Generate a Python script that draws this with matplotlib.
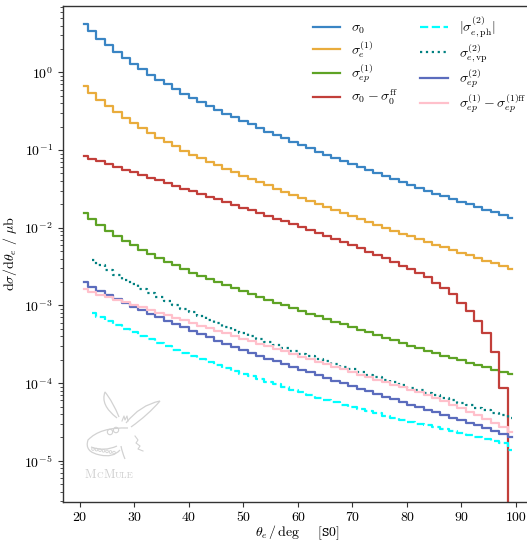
import numpy as np
import matplotlib
matplotlib.use("Agg")
import matplotlib.pyplot as plt
from matplotlib.path import Path
from matplotlib.patches import PathPatch, Circle
from matplotlib.offsetbox import TextArea, HPacker, AnnotationBbox

# Fonte no estilo LaTeX
plt.rcParams['font.family'] = ['cmr10', 'DejaVu Serif']
plt.rcParams['mathtext.fontset'] = 'cm'
plt.rcParams['axes.unicode_minus'] = False
plt.rcParams['font.size'] = 10

# 52 bins de theta_e entre 20 e 100 graus
bin_edges = np.linspace(20, 100, 53)
theta = 0.5 * (bin_edges[1:] + bin_edges[:-1])

# Dados (dsigma/dtheta em mub)
sigma0 = [4.19, 3.35, 2.71, 2.22, 1.83, 1.53, 1.285, 1.091, 0.933, 0.804,
          0.697, 0.608, 0.533, 0.470, 0.416, 0.370, 0.330, 0.294, 0.264, 0.237,
          0.213, 0.192, 0.173, 0.156, 0.141, 0.128, 0.116, 0.105, 0.0955, 0.0867,
          0.0789, 0.0718, 0.0655, 0.0597, 0.0546, 0.0499, 0.0457, 0.0419, 0.0385, 0.0353,
          0.0325, 0.0299, 0.0275, 0.0254, 0.0234, 0.0216, 0.0200, 0.0185, 0.0171, 0.0158,
          0.0146, 0.0135]

sigma_e1 = [0.667, 0.541, 0.444, 0.367, 0.308, 0.259, 0.221, 0.190, 0.164, 0.143,
            0.125, 0.111, 0.0982, 0.0875, 0.0783, 0.0705, 0.0634, 0.0571, 0.0516, 0.0468,
            0.0425, 0.0385, 0.0350, 0.0318, 0.0290, 0.0264, 0.0241, 0.0220, 0.0201, 0.0183,
            0.0168, 0.0153, 0.0140, 0.0128, 0.0117, 0.0108, 0.00991, 0.00910, 0.00838, 0.00771,
            0.00711, 0.00655, 0.00604, 0.00557, 0.00515, 0.00475, 0.00439, 0.00406, 0.00376, 0.00348,
            0.00322, 0.00298]

sigma_ep1 = [0.01535, 0.01282, 0.01081, 0.00920, 0.00791, 0.00684, 0.00596, 0.00522, 0.00461, 0.00409,
             0.00365, 0.00327, 0.00294, 0.00265, 0.00240, 0.00218, 0.00199, 0.00181, 0.00166, 0.00152,
             0.00139, 0.00128, 0.00118, 0.00109, 0.00100, 0.000923, 0.000851, 0.000785, 0.000724, 0.000668,
             0.000617, 0.000569, 0.000525, 0.000485, 0.000449, 0.000415, 0.000384, 0.000355, 0.000328, 0.000303,
             0.000281, 0.000261, 0.000243, 0.000226, 0.000211, 0.000197, 0.000184, 0.000171, 0.000160, 0.000149,
             0.000139, 0.000130]

sigma0_ff = [0.0845, 0.0776, 0.0714, 0.0658, 0.0607, 0.0560, 0.0516, 0.0476, 0.0440, 0.0406,
             0.0374, 0.0345, 0.0318, 0.0294, 0.0271, 0.0250, 0.0231, 0.0213, 0.0196, 0.0181,
             0.0167, 0.0154, 0.0142, 0.0131, 0.0121, 0.0111, 0.0102, 0.00940, 0.00863, 0.00791,
             0.00723, 0.00659, 0.00600, 0.00545, 0.00493, 0.00446, 0.00402, 0.00361, 0.00324, 0.00290,
             0.00263, 0.00230, 0.00197, 0.00168, 0.00140, 0.00108, 0.000847, 0.000635, 0.000446, 0.000254,
             0.0000857, 0.0]

# estas duas comecam no segundo bin
sigma_e2_ph = [7.94e-4, 7.05e-4, 6.28e-4, 5.61e-4, 5.02e-4, 4.51e-4, 4.06e-4, 3.65e-4, 3.29e-4,
               2.97e-4, 2.69e-4, 2.44e-4, 2.22e-4, 2.03e-4, 1.85e-4, 1.70e-4, 1.56e-4, 1.44e-4, 1.32e-4,
               1.22e-4, 1.13e-4, 1.04e-4, 9.62e-5, 8.89e-5, 8.22e-5, 7.60e-5, 7.05e-5, 6.53e-5, 6.07e-5,
               5.65e-5, 5.27e-5, 4.93e-5, 4.62e-5, 4.34e-5, 4.07e-5, 3.83e-5, 3.61e-5, 3.40e-5, 3.20e-5,
               3.02e-5, 2.85e-5, 2.69e-5, 2.54e-5, 2.40e-5, 2.26e-5, 2.14e-5, 2.02e-5, 1.91e-5, 1.80e-5,
               1.68e-5, 1.38e-5]

sigma_e2_vp = [3.84e-3, 3.30e-3, 2.84e-3, 2.47e-3, 2.15e-3, 1.88e-3, 1.65e-3, 1.46e-3, 1.29e-3,
               1.15e-3, 1.02e-3, 9.08e-4, 8.13e-4, 7.29e-4, 6.56e-4, 5.92e-4, 5.35e-4, 4.84e-4, 4.40e-4,
               4.00e-4, 3.65e-4, 3.34e-4, 3.07e-4, 2.82e-4, 2.61e-4, 2.40e-4, 2.22e-4, 2.05e-4, 1.90e-4,
               1.75e-4, 1.62e-4, 1.50e-4, 1.39e-4, 1.28e-4, 1.19e-4, 1.10e-4, 1.02e-4, 9.42e-5, 8.73e-5,
               8.09e-5, 7.50e-5, 6.95e-5, 6.46e-5, 6.00e-5, 5.57e-5, 5.18e-5, 4.81e-5, 4.47e-5, 4.15e-5,
               3.85e-5, 3.58e-5]

sigma_ep2 = [1.98e-3, 1.73e-3, 1.52e-3, 1.35e-3, 1.20e-3, 1.07e-3, 9.64e-4, 8.67e-4, 7.82e-4, 7.05e-4,
             6.37e-4, 5.75e-4, 5.20e-4, 4.71e-4, 4.27e-4, 3.87e-4, 3.52e-4, 3.20e-4, 2.92e-4, 2.67e-4,
             2.44e-4, 2.24e-4, 2.07e-4, 1.90e-4, 1.75e-4, 1.62e-4, 1.49e-4, 1.38e-4, 1.27e-4, 1.17e-4,
             1.08e-4, 9.98e-5, 9.20e-5, 8.49e-5, 7.83e-5, 7.24e-5, 6.70e-5, 6.19e-5, 5.73e-5, 5.30e-5,
             4.90e-5, 4.53e-5, 4.19e-5, 3.87e-5, 3.58e-5, 3.32e-5, 3.08e-5, 2.85e-5, 2.64e-5, 2.45e-5,
             2.21e-5, 2.00e-5]

sigma_ep1_ff = [1.61e-3, 1.49e-3, 1.38e-3, 1.28e-3, 1.19e-3, 1.10e-3, 1.02e-3, 9.46e-4, 8.75e-4, 8.09e-4,
                7.48e-4, 6.92e-4, 6.40e-4, 5.92e-4, 5.47e-4, 5.07e-4, 4.70e-4, 4.36e-4, 4.04e-4, 3.74e-4,
                3.47e-4, 3.21e-4, 2.98e-4, 2.76e-4, 2.56e-4, 2.37e-4, 2.20e-4, 2.04e-4, 1.89e-4, 1.75e-4,
                1.62e-4, 1.50e-4, 1.39e-4, 1.29e-4, 1.20e-4, 1.11e-4, 1.03e-4, 9.53e-5, 8.83e-5, 8.18e-5,
                7.59e-5, 6.98e-5, 6.40e-5, 5.83e-5, 5.30e-5, 4.79e-5, 4.31e-5, 3.85e-5, 3.44e-5, 3.05e-5,
                2.69e-5, 2.37e-5]

labels = [r"$\sigma_0$", r"$\sigma^{(1)}_e$", r"$\sigma^{(1)}_{ep}$", r"$\sigma_0-\sigma_0^{\mathrm{ff}}$",
          r"$|\sigma^{(2)}_{e,\mathrm{ph}}|$", r"$\sigma^{(2)}_{e,\mathrm{vp}}$", r"$\sigma^{(2)}_{ep}$",
          r"$\sigma^{(1)}_{ep}-\sigma^{(1)\mathrm{ff}}_{ep}$"]


def px(x, y):
    # converte pixel da imagem para coordenada da figura
    return (x / 527.0, 1.0 - y / 540.0)


def logo(fig):
    # desenho simplificado do logo McMule (marca d'agua)
    cor = '#d2d2d2'
    formas = [
        [(117, 418), (100, 405), (105, 392), (113, 402), (119, 417)],
        [(126, 423), (140, 405), (160, 401), (148, 415), (131, 427)],
        [(128, 428), (100, 427), (88, 440), (84, 452), (100, 455), (113, 458), (120, 450)],
        [(91, 447), (104, 452), (117, 446)],
        [(121, 446), (122, 452), (125, 459)],
    ]
    for pts in formas:
        verts = [px(*p) for p in pts]
        codes = [Path.MOVETO] + [Path.CURVE3] * (len(verts) - 1)
        fig.add_artist(PathPatch(Path(verts, codes), fc='none', ec=cor, lw=0.9,
                                 transform=fig.transFigure))
    # dentes
    for k in range(7):
        x, y = px(93 + 3.5 * k, 449 + 0.6 * k)
        fig.add_artist(Circle((x, y), 0.0025, fc='none', ec=cor, lw=0.6,
                              transform=fig.transFigure))
    # olhos e pelos
    for (x0, y0) in [(110, 432), (116, 430)]:
        x, y = px(x0, y0)
        fig.add_artist(Circle((x, y), 0.005, fc='none', ec=cor, lw=0.8,
                              transform=fig.transFigure))
    zz = [px(135, 436), px(138, 440), px(136, 443), px(140, 446), px(138, 449), px(143, 451)]
    fig.add_artist(plt.Line2D([p[0] for p in zz], [p[1] for p in zz], color=cor, lw=0.8,
                              transform=fig.transFigure))
    zz = [px(122, 421), px(124, 416), px(125, 420), px(127, 416), px(128, 421)]
    fig.add_artist(plt.Line2D([p[0] for p in zz], [p[1] for p in zz], color=cor, lw=0.8,
                              transform=fig.transFigure))

    # texto em versalete
    partes = [("M", 9), ("C", 6.6), ("M", 9), ("ULE", 6.6)]
    caixas = [TextArea(t, textprops=dict(size=s, color='#cfcfcf', family='cmr10'))
              for t, s in partes]
    texto = HPacker(children=caixas, sep=0.3, pad=0, align='baseline')
    ab = AnnotationBbox(texto, px(109, 475), xycoords='figure fraction', frameon=False,
                        box_alignment=(0.5, 0.5))
    fig.add_artist(ab)


def plot_grafico():
    fig = plt.figure(figsize=(5.27, 5.40), dpi=100)
    ax = fig.add_axes([62.5 / 527, 1 - 501.7 / 540, 470.7 / 527, 495.7 / 540])

    ax.step(theta, sigma0, where='mid', color='#3a85c4', lw=1.6, label=labels[0])
    ax.step(theta, sigma_e1, where='mid', color='#e9ac3c', lw=1.6, label=labels[1])
    ax.step(theta, sigma_ep1, where='mid', color='#5ea325', lw=1.6, label=labels[2])
    ax.step(theta, sigma0_ff, where='mid', color='#c23f3a', lw=1.6, label=labels[3])
    ax.step(theta[1:], sigma_e2_ph, where='mid', color='cyan', lw=1.6, ls='--', label=labels[4])
    ax.step(theta[1:], sigma_e2_vp, where='mid', color='teal', lw=1.6, ls=':', label=labels[5])
    ax.step(theta, sigma_ep2, where='mid', color='#5b6cbd', lw=1.6, label=labels[6])
    ax.step(theta, sigma_ep1_ff, where='mid', color='pink', lw=1.6, label=labels[7])

    ax.set_yscale('log')
    ax.set_xlim(16.85, 103.15)
    ax.set_ylim(2.98e-6, 7.13)
    ax.set_xticks(range(20, 101, 10))

    ax.set_xlabel(r"$\theta_e\,/\,\mathrm{deg}\quad\;\;[\mathtt{S0}]$", labelpad=0)
    ax.set_ylabel(r"$\mathrm{d}\sigma/\mathrm{d}\theta_e\ /\ \mu\mathrm{b}$")

    for s in ax.spines.values():
        s.set_color('#333333')
        s.set_linewidth(1.0)
    ax.tick_params(which='both', color='#333333')

    ax.legend(ncol=2, frameon=False, loc='upper left', bbox_to_anchor=px(300, 2),
              bbox_transform=fig.transFigure, columnspacing=1.6, handlelength=2.0,
              labelspacing=0.2)

    logo(fig)
    fig.savefig('out.png', dpi=100)


if __name__ == "__main__":
    plot_grafico()
